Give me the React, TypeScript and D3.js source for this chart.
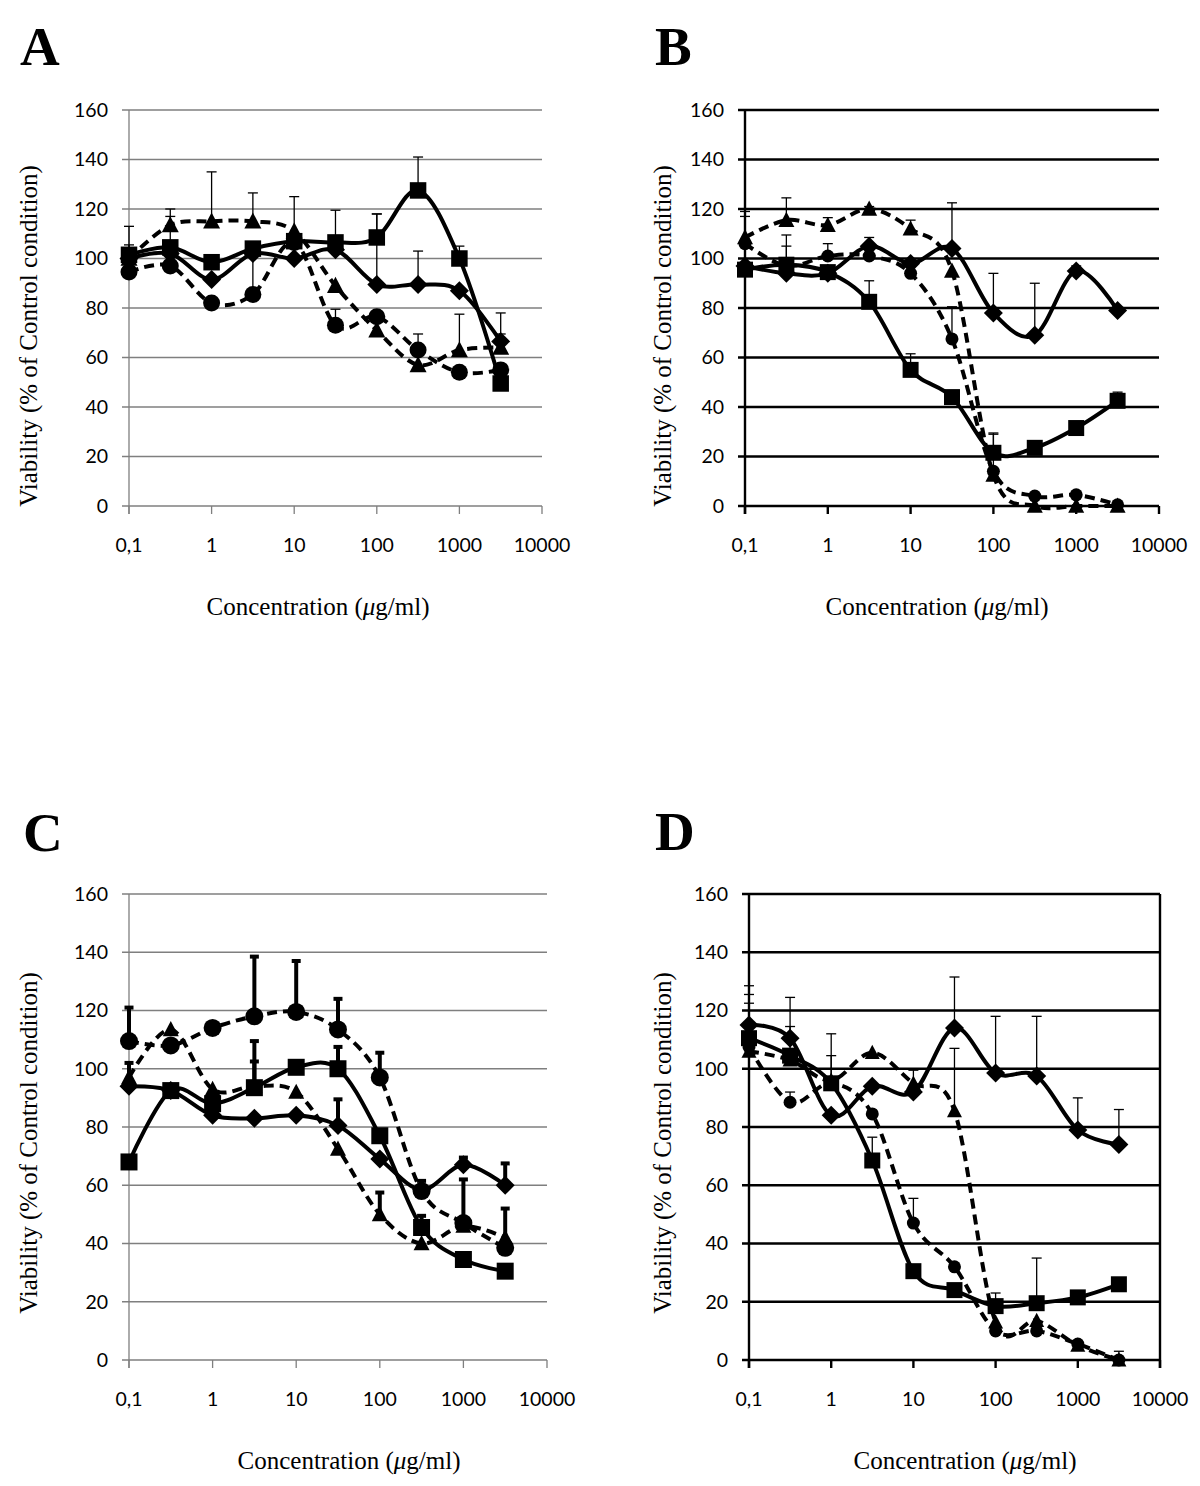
import * as d3 from "d3";

// Concentrations (µg/ml) at which every series was measured
const CONC = [0.1, 0.316, 1, 3.16, 10, 31.6, 100, 316, 1000, 3162];
const X_TICKS = [0.1, 1, 10, 100, 1000, 10000];
const X_TICK_LABELS = ["0,1", "1", "10", "100", "1000", "10000"];
const Y_LABEL = "Viability (% of Control condition)";

// Panel A
const A_DIAMOND = [100, 102, 91.5, 102, 100, 103.5, 89.5, 89.5, 87, 66.5];
const A_DIAMOND_SD = [0, 0, 0, 0, 0, 0, 28.5, 13.5, 0, 11.5];
const A_SQUARE = [101.5, 104.5, 98.5, 104, 107, 106.5, 108.5, 127.5, 100, 49.5];
const A_SQUARE_SD = [4, 12.5, 0, 0, 0, 13, 9.5, 13.5, 5, 0];
const A_TRIANGLE = [100, 113.5, 115, 115, 111, 89, 71, 57, 63, 64];
const A_TRIANGLE_SD = [13, 6.5, 20, 11.5, 14, 0, 0, 0, 14.5, 5.5];
const A_CIRCLE = [94.5, 97, 82, 85.5, 106.5, 73, 76.5, 63, 54, 55];
const A_CIRCLE_SD = [0, 0, 0, 15, 0, 6.5, 0, 6.5, 0, 0];

// Panel B
const B_DIAMOND = [97, 94, 94, 105, 98, 104, 78, 69, 95, 79];
const B_DIAMOND_SD = [0, 0, 0, 3.5, 0, 18.5, 16, 21, 2, 0];
const B_SQUARE = [95.5, 97.5, 94.5, 82.5, 55, 44, 21.5, 23.5, 31.5, 42.5];
const B_SQUARE_SD = [0, 12, 0, 8.5, 6.5, 0, 8, 0, 0, 3.5];
const B_TRIANGLE = [108.5, 115.5, 113.5, 120, 112, 95, 12.5, 0, 0, 0];
const B_TRIANGLE_SD = [10.5, 9, 3, 1, 3.5, 0, 0, 0, 0, 0];
const B_CIRCLE = [106, 97, 101, 101, 94, 67.5, 14, 4, 4.5, 0.5];
const B_CIRCLE_SD = [11, 8, 5, 0, 0, 13, 15, 0, 0, 0];

// Panel C
const C_DIAMOND = [94, 92.5, 84, 83, 84, 80.5, 69, 58.5, 67, 60];
const C_DIAMOND_SD = [0, 0, 0, 0, 0, 9, 0, 0, 2.5, 7.5];
const C_SQUARE = [68, 92.5, 88, 93.5, 100.5, 100, 77, 45.5, 34.5, 30.5];
const C_SQUARE_SD = [0, 0, 0, 16, 0, 7.5, 0, 4, 0, 0];
const C_TRIANGLE = [97, 113.5, 93, 94, 92, 72.5, 50, 40, 46, 42];
const C_TRIANGLE_SD = [5, 0, 0, 8.5, 0, 0, 7.5, 0, 16, 10];
const C_CIRCLE = [109.5, 108, 114, 118, 119.5, 113.5, 97, 58, 47, 38.5];
const C_CIRCLE_SD = [11.5, 0, 0, 20.5, 17.5, 10.5, 8.5, 3.5, 0, 0];

// Panel D
const D_DIAMOND = [115, 110.5, 84, 94, 92, 114, 98.5, 97.5, 79, 74];
const D_DIAMOND_SD = [13.5, 14, 0, 0, 0, 17.5, 19.5, 20.5, 11, 12];
const D_SQUARE = [110.5, 104.5, 95, 68.5, 30.5, 24, 18.5, 19.5, 21.5, 26];
const D_SQUARE_SD = [15, 10, 17, 8, 0, 0, 4.5, 15.5, 0, 0];
const D_TRIANGLE = [106, 103, 96, 105.5, 95, 85.5, 13, 13.5, 5, 0];
const D_TRIANGLE_SD = [16.5, 0, 0, 0, 4.5, 21.5, 0, 0, 0, 3];
const D_CIRCLE = [107.5, 88.5, 95, 84.5, 47, 32, 10, 10, 5.5, 0];
const D_CIRCLE_SD = [0, 3.5, 9.5, 0, 8.5, 0, 0, 0, 0, 0];

type Shape = "diamond" | "square" | "triangle" | "circle";

const series = (d: number[], sd: number[], t: number[], tsd: number[], c: number[], csd: number[], s: number[], ssd: number[]) => [
  { shape: "diamond" as Shape, values: d, sd: sd, dashed: false },
  { shape: "square" as Shape, values: s, sd: ssd, dashed: false },
  { shape: "triangle" as Shape, values: t, sd: tsd, dashed: true },
  { shape: "circle" as Shape, values: c, sd: csd, dashed: true },
];

const PANELS = [
  {
    letter: "A", lx: 20, ly: 65,
    x0: 129, x1: 542, yTop: 110, yBot: 506,
    grid: "#7f7f7f", gridW: 1.3, box: false, errW: 1.3, errCap: 10,
    ylx: 37, yly: 336, xlx: 318, xly: 615,
    size: { diamond: 9.5, square: 16.5, triangle: 17, circle: 8.5 },
    data: series(A_DIAMOND, A_DIAMOND_SD, A_TRIANGLE, A_TRIANGLE_SD, A_CIRCLE, A_CIRCLE_SD, A_SQUARE, A_SQUARE_SD),
  },
  {
    letter: "B", lx: 655, ly: 65,
    x0: 745, x1: 1159, yTop: 110, yBot: 506,
    grid: "#000", gridW: 2.4, box: false, errW: 1.3, errCap: 10,
    ylx: 671, yly: 336, xlx: 937, xly: 615,
    size: { diamond: 9.5, square: 16, triangle: 16, circle: 6.5 },
    data: series(B_DIAMOND, B_DIAMOND_SD, B_TRIANGLE, B_TRIANGLE_SD, B_CIRCLE, B_CIRCLE_SD, B_SQUARE, B_SQUARE_SD),
  },
  {
    letter: "C", lx: 23, ly: 851,
    x0: 129, x1: 547, yTop: 894, yBot: 1360,
    grid: "#7f7f7f", gridW: 1.3, box: false, errW: 4, errCap: 9,
    ylx: 37, yly: 1143, xlx: 349, xly: 1469,
    size: { diamond: 9.5, square: 17, triangle: 16, circle: 9 },
    data: series(C_DIAMOND, C_DIAMOND_SD, C_TRIANGLE, C_TRIANGLE_SD, C_CIRCLE, C_CIRCLE_SD, C_SQUARE, C_SQUARE_SD),
  },
  {
    letter: "D", lx: 655, ly: 850,
    x0: 749, x1: 1160, yTop: 894, yBot: 1360,
    grid: "#000", gridW: 2.4, box: true, errW: 1.3, errCap: 10,
    ylx: 671, yly: 1143, xlx: 965, xly: 1469,
    size: { diamond: 9.5, square: 16, triangle: 15, circle: 6.5 },
    data: series(D_DIAMOND, D_DIAMOND_SD, D_TRIANGLE, D_TRIANGLE_SD, D_CIRCLE, D_CIRCLE_SD, D_SQUARE, D_SQUARE_SD),
  },
];

function markerPath(shape: Shape, s: number) {
  if (shape === "diamond") return `M0,${-s}L${s},0L0,${s}L${-s},0Z`;
  if (shape === "square") {
    const h = s / 2;
    return `M${-h},${-h}h${s}v${s}h${-s}Z`;
  }
  const h = s / 2;
  return `M0,${-h * 1.05}L${h},${h * 0.85}L${-h},${h * 0.85}Z`;
}

function Panel({ p }: { p: (typeof PANELS)[number] }) {
  const x = d3.scaleLog().domain([0.1, 10000]).range([p.x0, p.x1]);
  const y = d3.scaleLinear().domain([0, 160]).range([p.yBot, p.yTop]);
  const line = d3
    .line<number>()
    .x((_, i) => x(CONC[i]))
    .y((v) => y(v))
    .curve(d3.curveCatmullRom.alpha(0));
  const tickFont = { fontFamily: "Lato, 'Open Sans', sans-serif", fontSize: 19.5 };
  const serif = "'Liberation Serif', 'DejaVu Serif', serif";

  return (
    <g>
      <text x={p.lx} y={p.ly} fontFamily={serif} fontWeight="bold" fontSize={55}>
        {p.letter}
      </text>

      {/* horizontal grid + y ticks */}
      {y.ticks(8).map((t) => (
        <g key={t}>
          <line x1={p.x0 - 7} x2={p.x1} y1={y(t)} y2={y(t)} stroke={p.grid} strokeWidth={p.gridW} />
          <text x={p.x0 - 21} y={y(t)} dy="0.35em" textAnchor="end" {...tickFont}>
            {t}
          </text>
        </g>
      ))}

      {/* axes */}
      <line x1={p.x0} x2={p.x0} y1={p.yTop} y2={p.yBot + 8} stroke={p.grid} strokeWidth={p.gridW} />
      {p.box && <line x1={p.x1} x2={p.x1} y1={p.yTop} y2={p.yBot + 8} stroke={p.grid} strokeWidth={p.gridW} />}
      {X_TICKS.map((t, i) => (
        <g key={t}>
          <line x1={x(t)} x2={x(t)} y1={p.yBot} y2={p.yBot + 8} stroke={p.grid} strokeWidth={p.gridW} />
          <text x={x(t)} y={p.yBot + 46} textAnchor="middle" {...tickFont}>
            {X_TICK_LABELS[i]}
          </text>
        </g>
      ))}

      {/* series */}
      {p.data.map((s) => (
        <g key={s.shape}>
          <path
            d={line(s.values) ?? ""}
            fill="none"
            stroke="#000"
            strokeWidth={4}
            strokeDasharray={s.dashed ? "10,6" : undefined}
          />
          {s.values.map((v, i) =>
            s.sd[i] > 0 ? (
              <g key={i} stroke="#000" strokeWidth={p.errW}>
                <line x1={x(CONC[i])} x2={x(CONC[i])} y1={y(v)} y2={y(v + s.sd[i])} />
                <line
                  x1={x(CONC[i]) - p.errCap / 2}
                  x2={x(CONC[i]) + p.errCap / 2}
                  y1={y(v + s.sd[i])}
                  y2={y(v + s.sd[i])}
                />
              </g>
            ) : null
          )}
          {s.values.map((v, i) =>
            s.shape === "circle" ? (
              <circle key={i} cx={x(CONC[i])} cy={y(v)} r={p.size.circle} fill="#000" />
            ) : (
              <path
                key={i}
                transform={`translate(${x(CONC[i])},${y(v)})`}
                d={markerPath(s.shape, p.size[s.shape])}
                fill="#000"
              />
            )
          )}
        </g>
      ))}

      {/* axis titles */}
      <text
        transform={`translate(${p.ylx},${p.yly}) rotate(-90)`}
        textAnchor="middle"
        fontFamily={serif}
        fontSize={25}
      >
        {Y_LABEL}
      </text>
      <text x={p.xlx} y={p.xly} textAnchor="middle" fontFamily={serif} fontSize={25}>
        Concentration (<tspan fontStyle="italic">μ</tspan>g/ml)
      </text>
    </g>
  );
}

export default function App() {
  return (
    <svg
      width={1200}
      height={1486}
      style={{ position: "absolute", left: 0, top: 0, background: "#fff" }}
    >
      {PANELS.map((p) => (
        <Panel key={p.letter} p={p} />
      ))}
    </svg>
  );
}
